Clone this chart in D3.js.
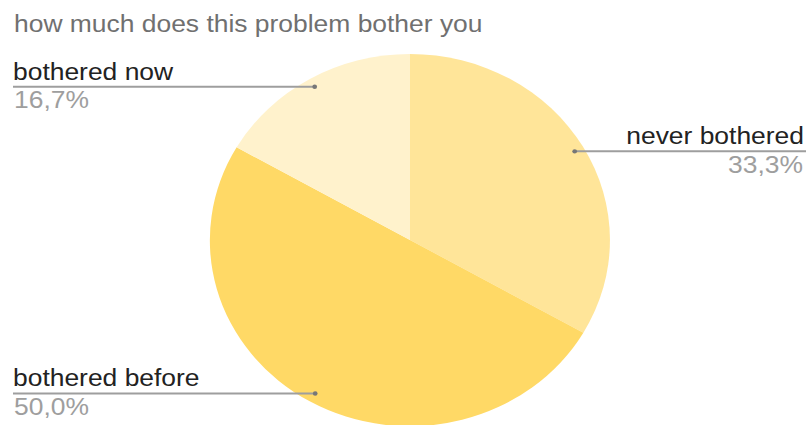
<!DOCTYPE html>
<html>
<head>
<meta charset="utf-8">
<script src="https://cdn.jsdelivr.net/npm/d3@7"></script>
<style>
  html, body { margin: 0; padding: 0; background: #fff; }
  svg { display: block; }
  text { font-family: "Liberation Sans", Arial, sans-serif; }
</style>
</head>
<body>
<script>
const title = "how much does this problem bother you";
const categories = ["never bothered", "bothered before", "bothered now"];
const values = [33.3, 50.0, 16.7];
const pctLabels = ["33,3%", "50,0%", "16,7%"];
const colors = ["#FFE599", "#FFD966", "#FFF2CC"];

const W = 806, H = 425;
const sx = 1.075; // horizontal stretch of the original picture
const FS = 24.6;
const svg = d3.select("body").append("svg").attr("width", W).attr("height", H);

svg.append("text")
  .attr("y", 32.5)
  .attr("font-size", FS).attr("fill", "#707070")
  .attr("transform", `scale(${sx},1)`)
  .attr("x", 14 / sx)
  .text(title);

const g = svg.append("g").attr("transform", `scale(${sx},1)`);
const cx = 410 / sx, cy = 240, R = 186;

const pie = d3.pie().sort(null).value(d => d)(values);
const arc = d3.arc().innerRadius(0).outerRadius(R);
const leadArc = d3.arc().innerRadius(177).outerRadius(177);

const pg = g.append("g").attr("transform", `translate(${cx},${cy})`);
pg.selectAll("path").data(pie).join("path")
  .attr("d", arc)
  .attr("fill", (d, i) => colors[i]);

pie.forEach((d, i) => {
  const [px, py] = leadArc.centroid(d);
  const dx = cx + px, dy = cy + py;
  const right = px > 0;
  const xEnd = right ? W / sx : 13 / sx;
  g.append("line")
    .attr("x1", dx).attr("y1", dy).attr("x2", xEnd).attr("y2", dy)
    .attr("stroke", "#9e9e9e").attr("stroke-width", 2);
  g.append("circle").attr("cx", dx).attr("cy", dy).attr("r", 2.2).attr("fill", "#777");
  const tx = right ? 804 / sx : 13 / sx;
  g.append("text")
    .attr("x", tx).attr("y", dy - 7)
    .attr("text-anchor", right ? "end" : "start")
    .attr("font-size", FS).attr("fill", "#222")
    .text(categories[i]);
  g.append("text")
    .attr("x", right ? 803 / sx : 14 / sx).attr("y", dy + 21.5)
    .attr("text-anchor", right ? "end" : "start")
    .attr("font-size", FS).attr("fill", "#9e9e9e")
    .text(pctLabels[i]);
});
</script>
</body>
</html>
